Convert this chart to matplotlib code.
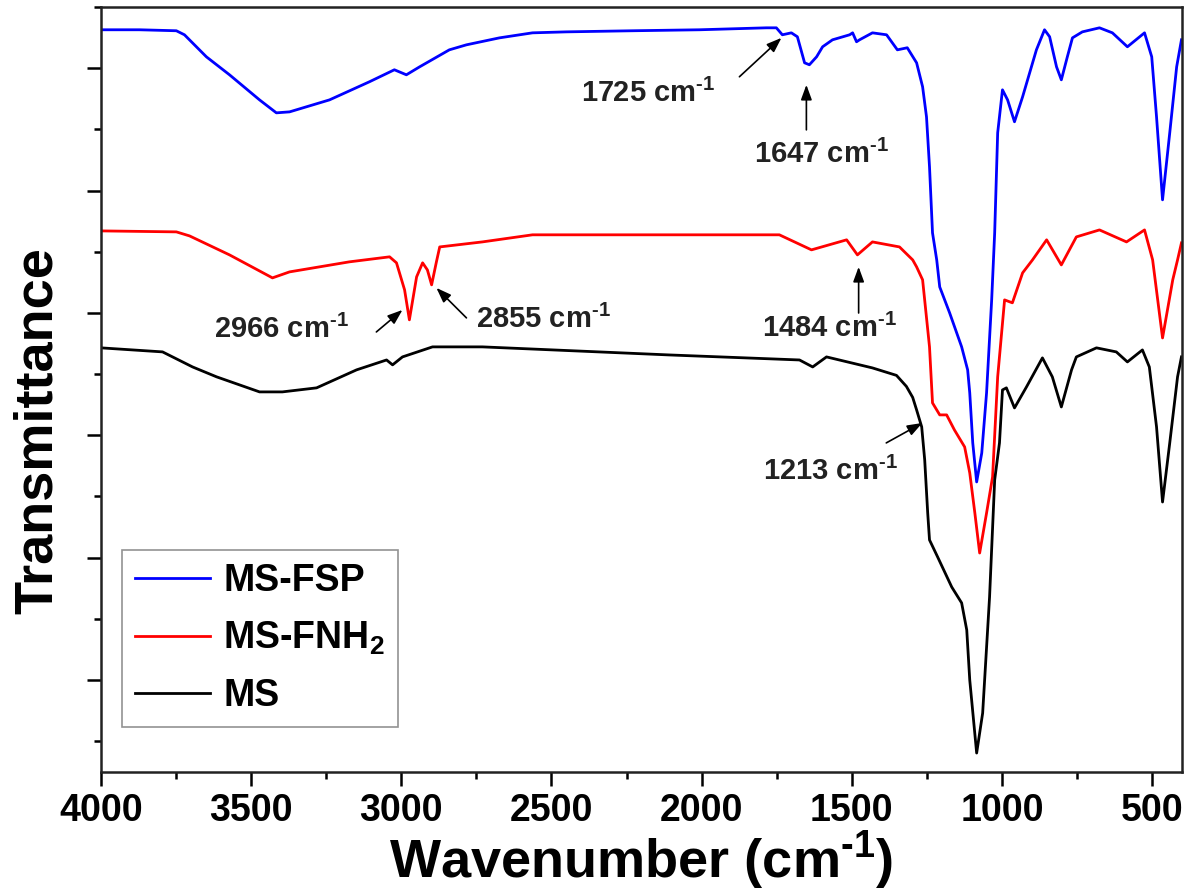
import matplotlib
matplotlib.use("Agg")
from matplotlib import pyplot as plt
from matplotlib.ticker import MultipleLocator, NullFormatter

plt.rcParams['font.family'] = ['Liberation Sans', 'DejaVu Sans']
plt.rcParams['font.weight'] = 'bold'
plt.rcParams['mathtext.fontset'] = 'custom'
plt.rcParams['mathtext.rm'] = 'Liberation Sans:bold'
plt.rcParams['mathtext.it'] = 'Liberation Sans:bold'
plt.rcParams['mathtext.bf'] = 'Liberation Sans:bold'
plt.rcParams['mathtext.default'] = 'rm'

# FTIR spectra (wavenumber in cm-1, offset transmittance in a.u.)
fsp_wn = [4000, 3872, 3749, 3722, 3649, 3572, 3472, 3416, 3372, 3239, 3106, 3023, 2983, 2939,
          2840, 2783, 2673, 2563, 2450, 2230, 2007, 1784, 1751, 1731, 1701, 1681, 1657, 1641,
          1617, 1597, 1564, 1507, 1497, 1484, 1474, 1431, 1384, 1348, 1315, 1284, 1264, 1251,
          1241, 1231, 1217, 1207, 1174, 1134, 1114, 1107, 1097, 1084, 1067, 1051, 1034, 1024,
          1014, 998, 981, 958, 931, 885, 858, 841, 818, 802, 782, 765, 732, 675, 632, 582,
          525, 501, 485, 465, 441, 418, 402]
fsp_t = [5.315, 5.315, 5.307, 5.274, 5.094, 4.947, 4.742, 4.636, 4.644, 4.742, 4.890, 4.988,
         4.947, 5.012, 5.151, 5.192, 5.249, 5.290, 5.298, 5.307, 5.315, 5.331, 5.331, 5.274,
         5.290, 5.258, 5.045, 5.029, 5.094, 5.176, 5.233, 5.274, 5.290, 5.217, 5.233, 5.290,
         5.274, 5.151, 5.168, 5.045, 4.849, 4.603, 4.195, 3.655, 3.434, 3.213, 3.001, 2.723,
         2.535, 2.347, 1.938, 1.619, 1.856, 2.347, 3.107, 3.655, 4.473, 4.824, 4.742, 4.563,
         4.767, 5.151, 5.315, 5.258, 5.012, 4.906, 5.094, 5.249, 5.298, 5.331, 5.290, 5.176,
         5.290, 5.094, 4.603, 3.925, 4.473, 5.012, 5.233]

fnh2_wn = [4000, 3749, 3705, 3572, 3429, 3372, 3173, 3039, 3016, 2989, 2973, 2949, 2929, 2913,
           2899, 2883, 2872, 2730, 2563, 2007, 1741, 1634, 1517, 1481, 1431, 1341, 1297, 1284,
           1264, 1241, 1231, 1207, 1184, 1158, 1124, 1107, 1090, 1074, 1051, 1031, 1014, 991,
           965, 931, 898, 851, 802, 752, 675, 585, 525, 498, 465, 431, 415, 402]
fnh2_t = [3.671, 3.663, 3.630, 3.475, 3.287, 3.336, 3.418, 3.459, 3.410, 3.189, 2.944, 3.295,
          3.410, 3.352, 3.230, 3.418, 3.540, 3.581, 3.639, 3.639, 3.639, 3.516, 3.598, 3.475,
          3.581, 3.540, 3.434, 3.377, 3.271, 2.723, 2.265, 2.167, 2.167, 2.044, 1.905, 1.693,
          1.365, 1.038, 1.365, 1.660, 2.478, 3.107, 3.083, 3.328, 3.434, 3.598, 3.393, 3.622,
          3.679, 3.581, 3.679, 3.434, 2.796, 3.271, 3.434, 3.573]

ms_wn = [4000, 3795, 3695, 3615, 3472, 3396, 3282, 3149, 3049, 3029, 2996, 2896, 2730, 2107,
         1674, 1630, 1584, 1431, 1351, 1318, 1297, 1284, 1267, 1257, 1247, 1241, 1214, 1167,
         1134, 1117, 1107, 1084, 1064, 1041, 1024, 1008, 998, 985, 958, 918, 865, 832, 802,
         768, 752, 685, 619, 582, 532, 509, 485, 465, 441, 415, 402]
ms_t = [2.715, 2.682, 2.559, 2.478, 2.355, 2.355, 2.388, 2.535, 2.616, 2.576, 2.641, 2.723,
        2.723, 2.657, 2.616, 2.559, 2.641, 2.551, 2.49, 2.40, 2.31, 2.208, 2.069, 1.799, 1.365,
        1.145, 1.006, 0.760, 0.630, 0.409, 0.0, -0.597, -0.270, 0.679, 1.635, 1.938, 2.371,
        2.388, 2.224, 2.396, 2.633, 2.478, 2.232, 2.535, 2.641, 2.715, 2.682, 2.600, 2.698,
        2.559, 2.069, 1.455, 1.938, 2.478, 2.641]

# peak labels: text, text anchor (left, baseline), arrow tail, arrow head
peak_labels = ['1725', '1647', '2966', '2855', '1484', '1213']
label_pos = [(2400, 4.725), (1824, 4.227), (3622, 2.796), (2750, 2.878), (1800, 2.805), (1797, 1.635)]
arrow_tail = [(1874, 4.931), (1651, 4.497), (3083, 2.845), (2783, 2.960), (1477, 3.000), (1385, 1.938)]
arrow_head = [(1734, 5.249), (1651, 4.865), (2996, 3.025), (2883, 3.205), (1477, 3.377), (1265, 2.101)]

unit = r' cm$^{\text{-}1}$'

fig = plt.figure(figsize=(11.88, 8.93), dpi=100)
ax = fig.add_axes([0.085, 0.1355, 0.91, 0.8565])

ax.plot(fsp_wn, fsp_t, color='#0000ff', lw=2.0, label='MS-FSP')
ax.plot(fnh2_wn, fnh2_t, color='#ff0000', lw=2.0, label='MS-FNH$_2$')
ax.plot(ms_wn, ms_t, color='#000000', lw=2.0, label='MS')

for name, pos, tail, head in zip(peak_labels, label_pos, arrow_tail, arrow_head):
    ax.text(pos[0], pos[1], name + unit, fontsize=21, fontweight='bold',
            ha='left', va='baseline', color='#222222')
    ax.annotate('', xy=head, xytext=tail,
                arrowprops=dict(arrowstyle='-|>,head_length=0.6,head_width=0.22',
                                color='black', lw=1.2, mutation_scale=15,
                                shrinkA=0, shrinkB=0))

ax.set_xlim(4000, 400)
ax.set_ylim(-0.752, 5.5)
ax.xaxis.set_major_locator(MultipleLocator(500))
ax.xaxis.set_minor_locator(MultipleLocator(250))
ax.yaxis.set_major_locator(MultipleLocator(1))
ax.yaxis.set_minor_locator(MultipleLocator(0.5))
ax.yaxis.set_major_formatter(NullFormatter())
ax.tick_params(which='both', direction='out', top=False, right=False, width=1.8)
ax.tick_params(which='major', length=10)
ax.tick_params(which='minor', length=5)
ax.tick_params(axis='x', labelsize=27, pad=5)
for lab in ax.get_xticklabels():
    lab.set_fontweight('bold')
for sp in ax.spines.values():
    sp.set_linewidth(1.8)
    sp.set_color('#222222')

ax.set_xlabel('Wavenumber (cm$^{\\text{-}1}$)', fontsize=39, fontweight='bold')
ax.set_ylabel('Transmittance', fontsize=39, fontweight='bold')
ax.xaxis.set_label_coords(0.5, -0.075)
ax.yaxis.set_label_coords(-0.035, 0.447)

leg = ax.legend(loc='lower left', bbox_to_anchor=(0.0194, 0.0588), borderaxespad=0,
                fontsize=27, frameon=True, fancybox=False, edgecolor='#777777',
                handlelength=2.0, handletextpad=0.35, labelspacing=0.55,
                borderpad=0.35)
leg.get_frame().set_linewidth(1.2)
for t in leg.get_texts():
    t.set_fontweight('bold')

fig.savefig('out.png', dpi=100)
plt.close(fig)
